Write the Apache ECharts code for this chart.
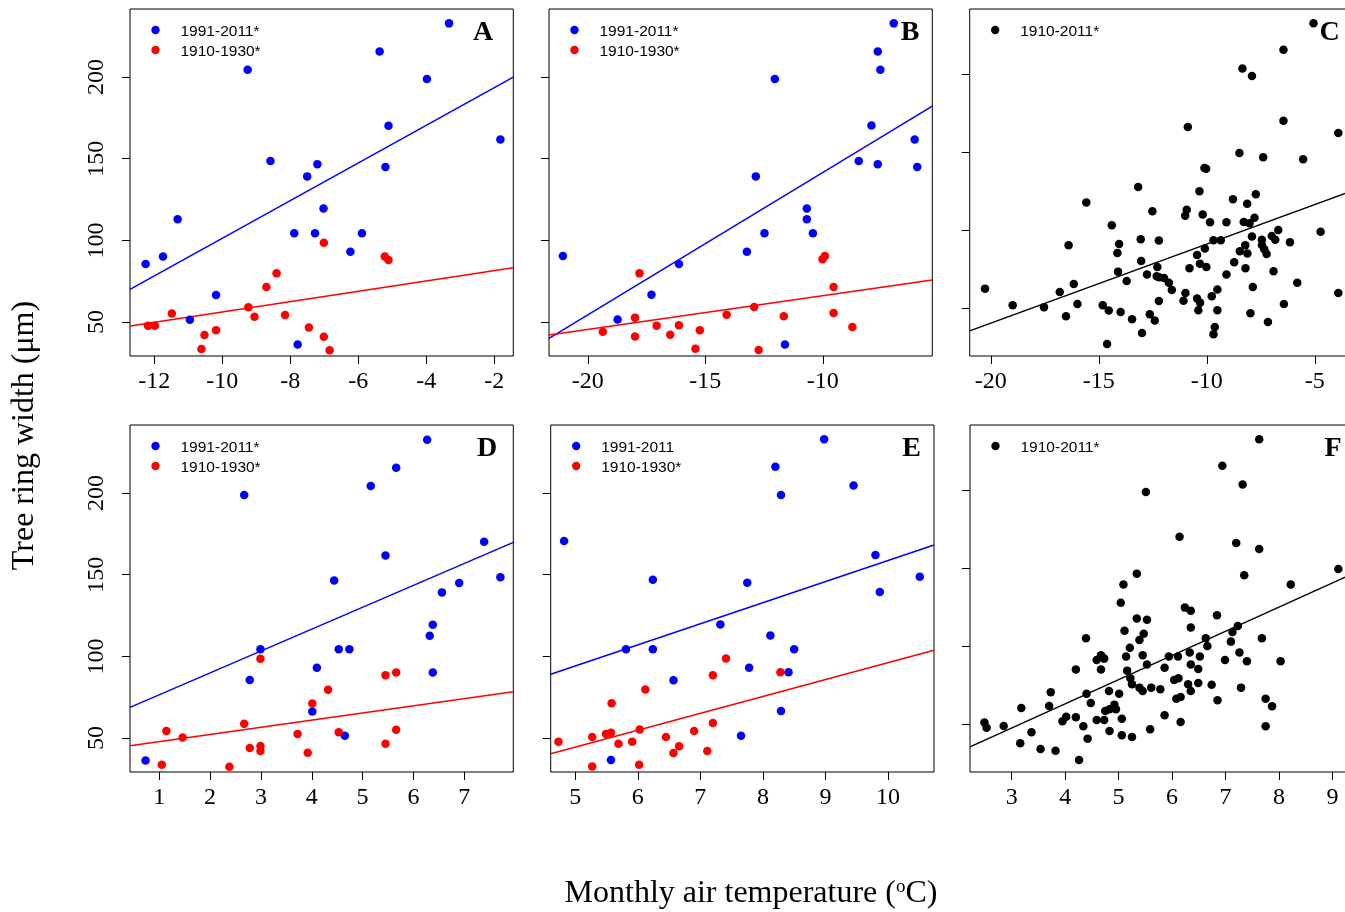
<!DOCTYPE html>
<html><head><meta charset="utf-8">
<script src="https://cdn.jsdelivr.net/npm/echarts@6/dist/echarts.min.js"></script>
<style>html,body{margin:0;padding:0;background:#fff}#c{width:1345px;height:912px}</style>
</head><body><div id="c"></div>
<script>
// ---------------- DATA ----------------
const A_1991_2011 = [[-12.25,85.5],[-11.74,90.2],[-11.31,112.9],[-10.95,51.4],[-10.18,66.5],[-9.25,204.5],[-8.58,148.6],[-7.88,104.3],[-7.78,36.3],[-7.50,139.2],[-7.27,104.3],[-7.20,146.7],[-7.02,119.6],[-6.23,93.1],[-5.89,104.3],[-5.37,215.7],[-5.20,144.9],[-5.11,170.2],[-3.98,198.8],[-3.33,232.9],[-1.82,161.8]];
const A_1910_1930 = [[-12.18,47.8],[-11.98,47.8],[-11.48,55.3],[-10.61,33.5],[-10.52,42.0],[-10.18,44.9],[-9.23,59.0],[-9.05,53.3],[-8.70,71.4],[-8.40,79.8],[-8.15,54.3],[-7.45,46.7],[-7.01,98.6],[-7.01,41.0],[-6.84,32.7],[-5.22,90.2],[-5.11,88.0]];
const B_1991_2011 = [[-21.06,90.4],[-18.73,51.6],[-17.29,66.7],[-16.12,85.5],[-13.23,93.1],[-12.85,139.2],[-12.48,104.3],[-12.04,198.8],[-11.61,36.3],[-10.68,119.6],[-10.68,112.9],[-10.42,104.3],[-8.47,148.6],[-7.93,170.4],[-7.66,215.7],[-7.66,146.7],[-7.55,204.5],[-6.98,232.9],[-6.09,161.8],[-5.98,144.9]];
const B_1910_1930 = [[-19.36,44.1],[-17.99,52.7],[-17.99,41.2],[-17.80,79.8],[-17.07,47.8],[-16.49,42.2],[-16.12,48.0],[-15.42,33.7],[-15.23,44.9],[-14.09,54.5],[-12.92,59.2],[-12.73,32.9],[-11.66,53.5],[-10.01,88.4],[-9.91,90.4],[-9.54,71.4],[-9.54,55.5],[-8.74,46.9]];
const C_1910_2011 = [[-20.27,62.4],[-18.99,51.7],[-17.54,50.4],[-16.81,60.3],[-16.52,44.7],[-16.40,90.2],[-16.16,65.4],[-15.99,52.6],[-15.58,117.7],[-14.82,51.7],[-14.54,48.3],[-14.40,103.0],[-14.62,26.9],[-14.14,85.3],[-14.06,91.0],[-14.11,73.3],[-13.99,47.4],[-13.71,67.3],[-13.46,42.7],[-13.18,127.6],[-13.06,94.0],[-13.04,80.1],[-13.00,34.0],[-12.77,71.4],[-12.64,45.9],[-12.52,112.0],[-12.41,41.9],[-12.29,76.3],[-12.22,93.2],[-12.32,70.3],[-12.21,69.7],[-12.22,54.5],[-11.98,69.2],[-11.76,66.2],[-11.62,61.5],[-11.00,109.2],[-10.93,113.0],[-10.88,166.0],[-10.99,59.6],[-11.08,54.7],[-10.80,75.4],[-10.45,84.0],[-10.45,56.0],[-10.34,124.8],[-10.31,53.4],[-10.39,48.5],[-10.32,78.4],[-10.19,110.0],[-10.11,139.7],[-10.03,139.3],[-10.09,88.2],[-10.02,76.3],[-9.85,104.9],[-9.77,57.5],[-9.69,93.4],[-9.63,37.8],[-9.69,33.1],[-9.51,61.8],[-9.51,48.5],[-9.35,93.4],[-9.09,104.9],[-9.09,71.4],[-8.79,119.7],[-8.73,79.3],[-8.49,149.4],[-8.47,86.3],[-8.35,203.6],[-8.29,105.1],[-8.22,90.2],[-8.21,75.4],[-8.13,116.9],[-8.12,85.0],[-8.02,104.3],[-7.91,198.7],[-7.91,95.9],[-7.98,46.6],[-7.87,63.5],[-7.79,107.9],[-7.73,122.9],[-7.45,93.8],[-7.45,90.4],[-7.39,146.6],[-7.34,87.6],[-7.23,84.6],[-7.17,41.0],[-6.99,96.2],[-6.91,73.5],[-6.83,93.8],[-6.69,100.0],[-6.45,215.6],[-6.45,170.1],[-6.43,52.6],[-6.15,92.1],[-5.81,66.2],[-5.54,145.3],[-5.06,232.5],[-4.73,98.9],[-3.91,162.2],[-3.91,59.6]];
const D_1991_2011 = [[0.73,36.3],[2.67,198.8],[2.78,85.5],[2.99,104.3],[4.01,66.3],[4.10,93.1],[4.44,146.5],[4.53,104.3],[4.65,51.4],[4.74,104.3],[5.16,204.3],[5.45,161.8],[5.66,215.5],[6.27,232.7],[6.32,112.7],[6.38,119.4],[6.38,90.2],[6.56,139.2],[6.90,144.9],[7.39,170.2],[7.71,148.4]];
const D_1910_1930 = [[1.05,33.7],[1.14,54.3],[1.46,50.4],[2.38,32.4],[2.67,58.8],[2.78,43.9],[2.99,45.1],[2.99,42.0],[2.99,98.6],[3.72,52.4],[3.92,41.0],[4.01,71.2],[4.32,79.6],[4.53,53.5],[5.45,88.4],[5.45,46.5],[5.66,90.2],[5.66,55.1]];
const E_1991_2011 = [[4.82,170.7],[5.57,36.5],[5.81,104.4],[6.24,146.9],[6.24,104.4],[6.57,85.4],[7.32,119.5],[7.65,51.4],[7.75,145.1],[7.78,93.1],[8.12,112.8],[8.20,216.1],[8.29,198.9],[8.29,66.6],[8.41,90.3],[8.50,104.4],[8.98,233.0],[9.45,204.6],[9.80,162.1],[9.87,139.4],[10.51,148.8]];
const E_1910_1930 = [[4.73,47.8],[5.27,32.6],[5.27,50.6],[5.49,52.5],[5.57,53.3],[5.58,71.3],[5.69,46.5],[5.91,47.8],[6.02,33.6],[6.03,55.3],[6.12,79.7],[6.45,50.6],[6.57,40.8],[6.66,44.9],[6.90,54.3],[7.11,42.0],[7.20,88.4],[7.20,59.2],[7.41,98.7],[8.28,90.3]];
const F_1910_2011 = [[2.49,50.9],[2.53,47.6],[2.85,48.7],[3.16,37.6],[3.18,60.3],[3.37,44.7],[3.54,34.0],[3.70,61.5],[3.73,70.3],[3.82,32.9],[3.95,51.7],[4.02,54.7],[4.20,54.3],[4.20,85.0],[4.26,26.9],[4.34,48.5],[4.39,104.9],[4.40,69.4],[4.42,40.6],[4.48,63.5],[4.59,52.6],[4.59,91.0],[4.67,94.0],[4.73,91.9],[4.67,85.0],[4.73,52.6],[4.75,58.3],[4.82,71.2],[4.83,45.5],[4.83,59.4],[4.92,62.4],[4.95,59.4],[5.01,69.4],[5.04,127.8],[5.06,53.4],[5.06,42.7],[5.09,139.5],[5.11,109.8],[5.14,93.2],[5.16,84.2],[5.21,98.9],[5.22,79.3],[5.25,75.4],[5.25,41.7],[5.34,146.4],[5.34,117.7],[5.39,103.8],[5.39,73.3],[5.45,94.0],[5.45,71.2],[5.47,107.9],[5.51,198.7],[5.53,116.9],[5.53,88.2],[5.59,46.6],[5.61,73.3],[5.78,72.2],[5.86,55.6],[5.86,86.1],[5.94,93.2],[6.04,78.2],[6.08,66.2],[6.11,93.2],[6.12,79.3],[6.14,170.1],[6.16,51.3],[6.16,67.3],[6.24,124.6],[6.30,75.4],[6.33,95.9],[6.35,71.2],[6.35,122.6],[6.35,88.2],[6.35,111.8],[6.49,85.3],[6.49,76.3],[6.52,93.2],[6.63,104.9],[6.66,100.0],[6.74,75.2],[6.84,119.7],[6.85,65.2],[6.94,215.6],[6.99,91.0],[7.10,102.8],[7.13,109.0],[7.20,166.0],[7.23,112.8],[7.26,95.9],[7.29,73.3],[7.32,203.6],[7.35,145.3],[7.40,90.2],[7.63,232.5],[7.63,162.2],[7.68,104.9],[7.75,66.2],[7.75,48.5],[7.87,61.3],[8.03,90.2],[8.22,139.5],[9.11,149.4]];

// fitted regression lines (end points)
const A_fit_1991_2011 = [[-12.71,70.0],[-1.44,200.0]];
const A_fit_1910_1930 = [[-12.71,47.6],[-1.44,83.3]];
const B_fit_1991_2011 = [[-21.65,40.0],[-5.34,182.2]];
const B_fit_1910_1930 = [[-21.65,42.0],[-5.34,75.7]];
const C_fit_1910_2011 = [[-20.98,35.3],[-3.23,125.3]];
const D_fit_1991_2011 = [[0.424,68.8],[7.964,169.8]];
const D_fit_1910_1930 = [[0.424,45.3],[7.964,78.4]];
const E_fit_1991_2011 = [[4.606,89.1],[10.737,168.2]];
const E_fit_1910_1930 = [[4.606,40.4],[10.737,103.8]];
const F_fit_1910_2011 = [[2.22,35.3],[9.39,146.5]];

// axis ranges and ticks
const xRanges = [[-12.71,-1.44],[-21.65,-5.34],[-20.98,-3.23],[0.424,7.964],[4.606,10.737],[2.22,9.39]];
const yRanges = [[29.2,241.7],[29.2,241.7],[19.2,241.7],[29.2,241.7],[29.2,241.7],[19.2,241.7]];
const xTicks = [[-12,-10,-8,-6,-4,-2],[-20,-15,-10],[-20,-15,-10,-5],[1,2,3,4,5,6,7],[5,6,7,8,9,10],[3,4,5,6,7,8,9]];
const yTicks = [50,100,150,200];
const panelLetters = ['A','B','C','D','E','F'];
const legendLabels = [['1991-2011*','1910-1930*'],['1991-2011*','1910-1930*'],['1910-2011*'],['1991-2011*','1910-1930*'],['1991-2011','1910-1930*'],['1910-2011*']];
const xTitle = 'Monthly air temperature (';
const yTitle = 'Tree ring width (\u03bcm)';

// ---------------- LAYOUT ----------------
const BLUE='#0000ff', RED='#ff0000', BLACK='#000000';
const panelGroups = [
  [{pts:A_1991_2011,fit:A_fit_1991_2011,color:BLUE},{pts:A_1910_1930,fit:A_fit_1910_1930,color:RED}],
  [{pts:B_1991_2011,fit:B_fit_1991_2011,color:BLUE},{pts:B_1910_1930,fit:B_fit_1910_1930,color:RED}],
  [{pts:C_1910_2011,fit:C_fit_1910_2011,color:BLACK}],
  [{pts:D_1991_2011,fit:D_fit_1991_2011,color:BLUE},{pts:D_1910_1930,fit:D_fit_1910_1930,color:RED}],
  [{pts:E_1991_2011,fit:E_fit_1991_2011,color:BLUE},{pts:E_1910_1930,fit:E_fit_1910_1930,color:RED}],
  [{pts:F_1910_2011,fit:F_fit_1910_2011,color:BLACK}]
];
const gridPos = [[130,9],[549,9],[969.7,9],[130,425],[550.7,425],[970,425]];
const GW = 383.3, GH = 347;
const letterOff = [353,361,360,357,361,363];
const SERIF = '"Liberation Serif", "Times New Roman", serif';
const SANS = '"Liberation Sans", Arial, sans-serif';

const grid = gridPos.map(p => ({left:p[0], top:p[1], width:GW, height:GH, show:true,
  borderColor:'#000', borderWidth:1, backgroundColor:'transparent', containLabel:false, outerBoundsMode:'none'}));

const xAxis = xRanges.map((r,i) => ({
  gridIndex:i, type:'value', min:r[0], max:r[1], scale:true,
  axisLine:{show:false}, splitLine:{show:false},
  axisTick:{show:true, length:8, customValues:xTicks[i], lineStyle:{color:'#000', width:1}},
  axisLabel:{show:true, customValues:xTicks[i], fontFamily:SERIF, fontSize:24, color:'#000', margin:14, hideOverlap:false}
}));
const yAxis = yRanges.map((r,i) => ({
  gridIndex:i, type:'value', min:r[0], max:r[1], scale:true,
  axisLine:{show:false}, splitLine:{show:false},
  axisTick:{show:true, length:8, customValues:yTicks, lineStyle:{color:'#000', width:1}},
  axisLabel:{show:(i===0||i===3), customValues:yTicks, rotate:90, fontFamily:SERIF, fontSize:24, color:'#000', margin:21, hideOverlap:false}
}));

const series = [];
panelGroups.forEach((groups,i) => {
  groups.forEach(g => {
    series.push({type:'line', xAxisIndex:i, yAxisIndex:i, data:g.fit, symbol:'none', showSymbol:false,
      lineStyle:{color:g.color, width:1.5}, silent:true, z:2});
    series.push({type:'scatter', xAxisIndex:i, yAxisIndex:i, data:g.pts, symbol:'circle', symbolSize:8.5,
      itemStyle:{color:g.color, opacity:1}, silent:true, z:3});
  });
});

const graphic = [];
gridPos.forEach((p,i) => {
  legendLabels[i].forEach((lab,k) => {
    const col = panelGroups[i][k].color;
    graphic.push({type:'circle', shape:{cx:p[0]+25.5, cy:p[1]+21+20*k, r:4.2}, style:{fill:col}, silent:true});
    graphic.push({type:'text', x:p[0]+50.5, y:p[1]+23+20*k, style:{text:lab, fontFamily:SANS, fontSize:15.5, fill:'#000', align:'left', verticalAlign:'middle'}, silent:true});
  });
  graphic.push({type:'text', x:p[0]+letterOff[i], y:p[1]+24, style:{text:panelLetters[i], fontFamily:SERIF, fontSize:28, fontWeight:'bold', fill:'#000', align:'center', verticalAlign:'middle'}, silent:true});
});
graphic.push({type:'text', x:751, y:894, style:{text:xTitle+'{s|o}C)', fontFamily:SERIF, fontSize:32, fill:'#000', align:'center', verticalAlign:'middle',
  rich:{s:{fontFamily:SERIF, fontSize:19, fill:'#000', verticalAlign:'top', padding:[0,0,12,0]}}}, silent:true});
graphic.push({type:'text', x:25, y:435.5, rotation:Math.PI/2, style:{text:yTitle, fontFamily:SERIF, fontSize:32, fill:'#000', align:'center', verticalAlign:'middle'}, silent:true});

const chart = echarts.init(document.getElementById('c'), null, {renderer:'canvas'});
chart.setOption({animation:false, backgroundColor:'#fff', grid, xAxis, yAxis, series, graphic});
</script></body></html>
